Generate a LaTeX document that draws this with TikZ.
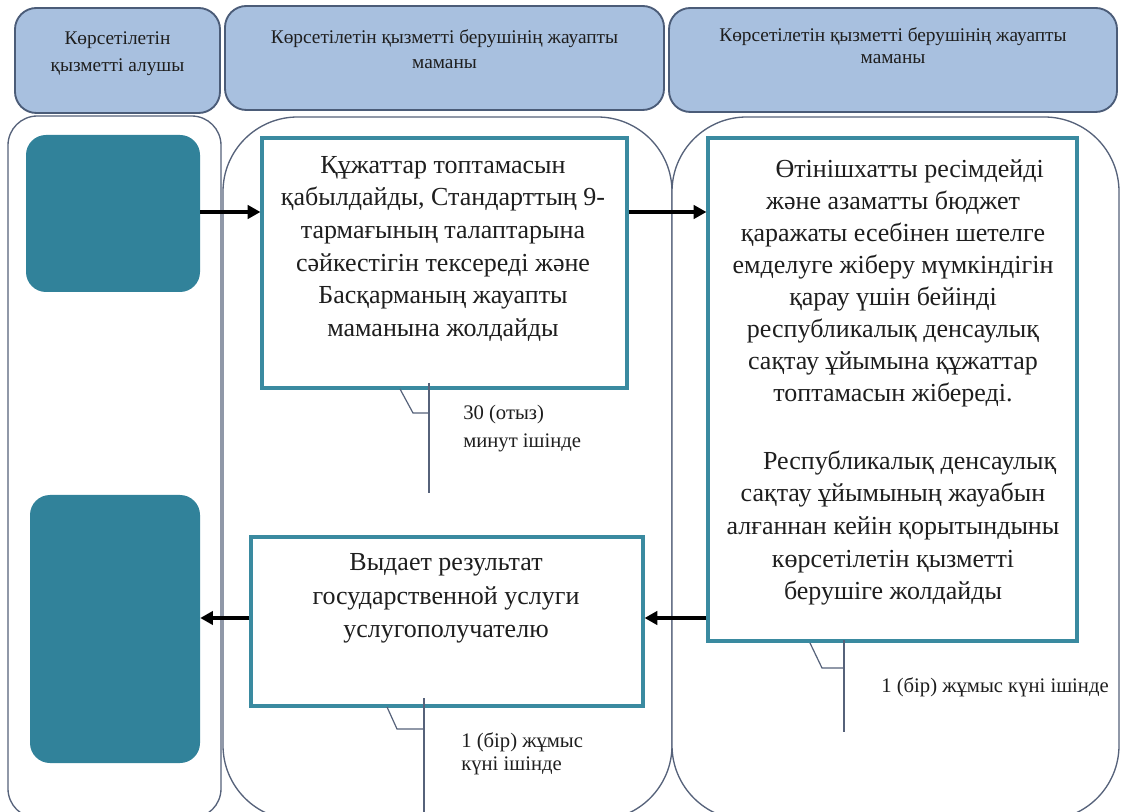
\documentclass[tikz,border=0pt]{standalone}
\usepackage{fontspec}
\setmainfont{Liberation Serif}
\usetikzlibrary{arrows.meta,calc}
\definecolor{hdrfill}{HTML}{A8C0DF}
\definecolor{hdrline}{HTML}{4B5C78}
\definecolor{laneline}{HTML}{56627A}
\definecolor{tealfill}{HTML}{31829A}
\definecolor{boxline}{HTML}{3A8AA0}
\definecolor{txt}{HTML}{1E1E1E}
\begin{document}
\begin{tikzpicture}[x=0.75pt,y=-0.75pt,
  hdr/.style={draw=hdrline,fill=hdrfill,line width=1.4pt,rounded corners=16pt,inner sep=0pt},
  lane/.style={draw=laneline,line width=1pt,fill=white},
  tealbox/.style={fill=tealfill,draw=none,rounded corners=15pt,inner sep=0pt},
  procbox/.style={draw=boxline,line width=2.4pt,fill=white,inner sep=0pt},
  arr/.style={line width=2.3pt,-{Triangle[length=9.5pt,width=10pt]}},
  call/.style={draw=laneline,line width=0.9pt},
  htext/.style={text=txt,align=center,inner sep=0pt},
  btext/.style={font=\fontsize{19.5}{24.5}\selectfont,text=txt,align=center,inner sep=0pt},
  ctext/.style={text=txt,align=left,inner sep=0pt,anchor=west},
]
\useasboundingbox (0,0) rectangle (1121,812);
\clip (0,0) rectangle (1121,812);
\fill[white] (0,0) rectangle (1121,812);

% headers
\node[hdr,minimum width=153.75pt,minimum height=78.75pt] (h1) at (117.5,60.5) {};
\node[hdr,minimum width=329.25pt,minimum height=78pt] (h2) at (444.5,58) {};
\node[hdr,minimum width=336pt,minimum height=78pt] (h3) at (893,60) {};
\node[htext,font=\fontsize{14.5}{20.5}\selectfont] (h1t) at (117.5,54) {Көрсетілетін\\қызметті алушы};
\node[htext,font=\fontsize{14.5}{18.5}\selectfont] (h2t) at (444.5,49.5) {Көрсетілетін қызметті берушінің жауапты\\маманы};
\node[htext,font=\fontsize{14.5}{16.5}\selectfont] (h3t) at (893,46) {Көрсетілетін қызметті берушінің жауапты\\маманы};

% lanes
\draw[lane,rounded corners=22pt] (8,116) rectangle (221,818);
\draw[lane,rounded corners=56pt] (223,117) rectangle (672,820);
\draw[lane,rounded corners=56pt] (672,117) rectangle (1119,820);

% teal boxes
\node[tealbox,minimum width=130.5pt,minimum height=117.75pt] (t1) at (113,213.5) {};
\node[tealbox,minimum width=127.5pt,minimum height=201pt] (t2) at (115,629) {};

% process boxes
\node[procbox,minimum width=273.75pt,minimum height=187.5pt] (b1) at (444.5,263) {};
\node[procbox,minimum width=276.75pt,minimum height=377.25pt] (b3) at (892.5,389.5) {};
\node[procbox,minimum width=294pt,minimum height=126.75pt] (b2) at (447,621.5) {};

\node[btext] (b1t) at (443,249) {Құжаттар топтамасын\\қабылдайды, Стандарттың 9-\\тармағының талаптарына\\сәйкестігін тексереді және\\Басқарманың жауапты\\маманына жолдайды};
\node[btext,font=\fontsize{19.5}{24}\selectfont] (b3ta) at (893,283.5) {\hspace*{25pt}Өтінішхатты ресімдейді\\және азаматты бюджет\\қаражаты есебінен шетелге\\емделуге жіберу мүмкіндігін\\қарау үшін бейінді\\республикалық денсаулық\\сақтау ұйымына құжаттар\\топтамасын жібереді.};
\node[btext,font=\fontsize{19.5}{24.5}\selectfont] (b3tb) at (893,528) {\hspace*{25pt}Республикалық денсаулық\\сақтау ұйымының жауабын\\алғаннан кейін қорытындыны\\көрсетілетін қызметті\\берушіге жолдайды};
\node[btext,font=\fontsize{19.5}{25}\selectfont] (b2t) at (446,598.5) {Выдает результат\\государственной услуги\\услугополучателю};

% arrows
\draw[arr] (t1.east |- 0,212) -- (b1.west |- 0,212);
\draw[arr] (b1.east |- 0,212) -- (b3.west |- 0,212);
\draw[arr] (b3.west |- 0,618) -- (b2.east |- 0,618);
\draw[arr] (b2.west |- 0,618) -- (t2.east |- 0,618);

% callouts
\coordinate (c1a) at (400,389);
\coordinate (c1b) at (413,413);
\coordinate (c1c) at (429,413);
\coordinate (c1top) at (429,383);
\coordinate (c1bot) at (429,493);
\draw[call] (c1a) -- (c1b) -- (c1c);
\draw[call] (c1top) -- (c1bot);
\node[ctext,font=\fontsize{15.5}{21}\selectfont] (c1t) at (463,429) {30 (отыз)\\минут ішінде};

\coordinate (c2a) at (387,707);
\coordinate (c2b) at (397,729);
\coordinate (c2c) at (424,729);
\coordinate (c2top) at (424,698);
\coordinate (c2bot) at (424,812);
\draw[call] (c2a) -- (c2b) -- (c2c);
\draw[call] (c2top) -- (c2bot);
\node[ctext,font=\fontsize{15.5}{17.5}\selectfont] (c2t) at (461,754) {1 (бір) жұмыс\\күні ішінде};

\coordinate (c3a) at (810,643);
\coordinate (c3b) at (822,668);
\coordinate (c3c) at (844,668);
\coordinate (c3top) at (844,640);
\coordinate (c3bot) at (844,732);
\draw[call] (c3a) -- (c3b) -- (c3c);
\draw[call] (c3top) -- (c3bot);
\node[ctext,font=\fontsize{15.5}{17}\selectfont] (c3t) at (881,687) {1 (бір) жұмыс күні ішінде};
\end{tikzpicture}
\end{document}
